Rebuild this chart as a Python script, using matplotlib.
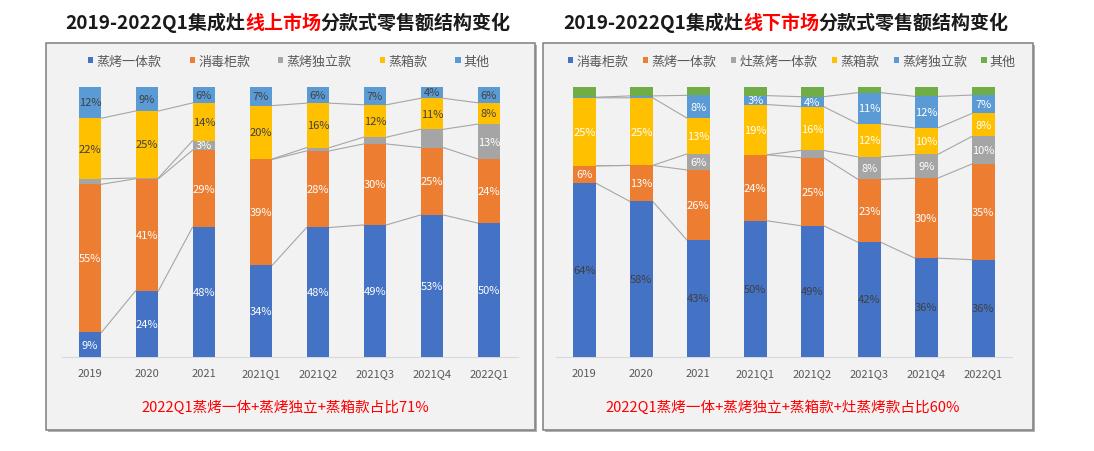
import numpy as np
import matplotlib
matplotlib.use('Agg')
import matplotlib.pyplot as plt
from matplotlib.patches import Rectangle

plt.rcParams['font.family'] = ['Noto Sans CJK SC', 'DejaVu Sans']

# ---- data ----
categories = ['2019', '2020', '2021', '2021Q1', '2021Q2', '2021Q3', '2021Q4', '2022Q1']

# online market (线上市场), bottom -> top
on_names = ['蒸烤一体款', '消毒柜款', '蒸烤独立款', '蒸箱款', '其他']
on_zkyt = [9, 24.4, 48, 34, 47.9, 48.8, 52.6, 50]
on_xdg = [55, 41.5, 28.5, 39.2, 28.4, 30, 25, 24]
on_zkdl = [2, 0.3, 3.5, 0.2, 1.2, 2.5, 6.8, 13]
on_zx = [22.5, 24.8, 14, 19.8, 16.5, 12, 11.5, 8]
on_qt = [11.7, 9, 6, 7, 6.1, 6.7, 4.3, 6]
on_lab_zkyt = [9, 24, 48, 34, 48, 49, 53, 50]
on_lab_xdg = [55, 41, 29, 39, 28, 30, 25, 24]
on_lab_zkdl = [None, None, 3, None, None, None, None, 13]
on_lab_zx = [22, 25, 14, 20, 16, 12, 11, 8]
on_lab_qt = [12, 9, 6, 7, 6, 7, 4, 6]

# offline market (线下市场), bottom -> top
off_names = ['消毒柜款', '蒸烤一体款', '灶蒸烤一体款', '蒸箱款', '蒸烤独立款', '其他']
off_xdg = [64.3, 57.4, 43.2, 50.3, 48.5, 42.4, 36.5, 35.9]
off_zkyt = [6.4, 13.3, 25.9, 24.4, 25.2, 23.3, 29.6, 35.4]
off_zzk = [0, 0, 5.9, 0, 2.7, 8.3, 8.8, 10.2]
off_zx = [25.2, 25, 13.3, 18.6, 16.2, 12.3, 9.8, 8.5]
off_zkdl = [0.2, 0.7, 8.4, 3.3, 3.7, 11.5, 11.7, 6.8]
off_qt = [3.9, 3.4, 3.2, 3.3, 3.7, 2.2, 3.6, 3.1]
off_lab_xdg = [64, 58, 43, 50, 49, 42, 36, 36]
off_lab_zkyt = [6, 13, 26, 24, 25, 23, 30, 35]
off_lab_zzk = [None, None, 6, None, None, 8, 9, 10]
off_lab_zx = [25, 25, 13, 19, 16, 12, 10, 8]
off_lab_zkdl = [None, None, 8, 3, 4, 11, 12, 7]
off_lab_qt = [None] * 8

BLUE = '#4472C4'
ORANGE = '#ED7D31'
GRAY = '#A5A5A5'
YELLOW = '#FFC000'
LBLUE = '#5B9BD5'
GREEN = '#70AD47'

W, H = 1094, 452


def fx(x):
    return x / W


def fy(y):
    return 1 - y / H


def draw_panel(ax, series, names, colors, labels, label_colors, legend_x, colspacing):
    x = np.arange(len(categories))
    total = np.sum(np.array(series, dtype=float), axis=0)
    bottom = np.zeros(len(categories))
    tops = []
    for vals, name, col, labs, lc in zip(series, names, colors, labels, label_colors):
        frac = np.array(vals, dtype=float) / total
        ax.bar(x, frac, 0.4, bottom=bottom, color=col, label=name, zorder=3)
        for xi, fi, bi, lab in zip(x, frac, bottom, labs):
            if lab is not None:
                ax.text(xi, bi + fi / 2, f'{lab}%', ha='center', va='center',
                        color=lc, fontsize=8, zorder=4)
        bottom = bottom + frac
        tops.append(bottom.copy())

    # series lines (annual and quarterly groups are not joined)
    for top in tops[:-1]:
        for i in range(len(x) - 1):
            if i == 2:
                continue
            ax.plot([x[i] + 0.2, x[i + 1] - 0.2], [top[i], top[i + 1]],
                    color='#A6A6A6', lw=0.8, zorder=2)

    ax.set_xlim(-0.5, len(categories) - 0.5)
    ax.set_ylim(0, 1)
    ax.set_xticks(x)
    ax.set_xticklabels(categories, fontsize=8, color='#595959')
    ax.tick_params(axis='x', length=0, pad=8)
    ax.set_yticks([])
    ax.set_facecolor('none')
    for s in ['top', 'right', 'left']:
        ax.spines[s].set_visible(False)
    ax.spines['bottom'].set_color('#D9D9D9')

    ax.legend(loc='center', bbox_to_anchor=(fx(legend_x), fy(62)),
              bbox_transform=ax.figure.transFigure, ncol=len(names),
              frameon=False, fontsize=9.4, handlelength=0.4, handleheight=0.4,
              handletextpad=0.25, columnspacing=colspacing,
              labelcolor='#595959')


def mixed_title(fig, x0, y, pieces):
    prev = None
    for txt, col in pieces:
        if prev is None:
            prev = fig.text(fx(x0), fy(y), txt, color=col, fontsize=13.7,
                            fontweight='bold', ha='left', va='center')
        else:
            prev = fig.axes[0].annotate(txt, xy=(1, 0), xycoords=prev,
                                        ha='left', va='bottom', color=col,
                                        fontsize=13.7, fontweight='bold',
                                        annotation_clip=False)


fig = plt.figure(figsize=(W / 100, H / 100), dpi=100)

# panel boxes with a slight shadow
for x0, x1 in [(46, 535), (543, 1033)]:
    fig.add_artist(Rectangle((fx(x0 + 2), fy(431 + 2)), fx(x1 - x0), (431 - 44) / H,
                             transform=fig.transFigure, facecolor='#B0B0B0',
                             edgecolor='none', zorder=-3))
    fig.add_artist(Rectangle((fx(x0), fy(431)), fx(x1 - x0), (431 - 44) / H,
                             transform=fig.transFigure, facecolor='#F2F2F2',
                             edgecolor='#7F7F7F', lw=1.1, zorder=-2))

ax1 = fig.add_axes([fx(61.5), fy(357.7), fx(456), (357.7 - 87.7) / H])
ax2 = fig.add_axes([fx(555.8), fy(357.7), fx(456), (357.7 - 87.7) / H])

draw_panel(ax1,
           [on_zkyt, on_xdg, on_zkdl, on_zx, on_qt], on_names,
           [BLUE, ORANGE, GRAY, YELLOW, LBLUE],
           [on_lab_zkyt, on_lab_xdg, on_lab_zkdl, on_lab_zx, on_lab_qt],
           ['white', 'white', 'white', '#404040', '#404040'],
           legend_x=289, colspacing=2.15)

draw_panel(ax2,
           [off_xdg, off_zkyt, off_zzk, off_zx, off_zkdl, off_qt], off_names,
           [BLUE, ORANGE, GRAY, YELLOW, LBLUE, GREEN],
           [off_lab_xdg, off_lab_zkyt, off_lab_zzk, off_lab_zx, off_lab_zkdl, off_lab_qt],
           ['#404040', 'white', 'white', 'white', 'white', 'white'],
           legend_x=792, colspacing=1.1)

mixed_title(fig, 65, 23, [('2019-2022Q1集成灶', '#1A1A1A'), ('线上市场', '#FF0000'),
                          ('分款式零售额结构变化', '#1A1A1A')])
mixed_title(fig, 563, 23, [('2019-2022Q1集成灶', '#1A1A1A'), ('线下市场', '#FF0000'),
                           ('分款式零售额结构变化', '#1A1A1A')])

fig.text(fx(285), fy(408), '2022Q1蒸烤一体+蒸烤独立+蒸箱款占比71%', color='#FF0000',
         fontsize=10.5, ha='center', va='center')
fig.text(fx(783), fy(408), '2022Q1蒸烤一体+蒸烤独立+蒸箱款+灶蒸烤款占比60%', color='#FF0000',
         fontsize=10.5, ha='center', va='center')

fig.savefig('out.png', dpi=100, facecolor='white')
